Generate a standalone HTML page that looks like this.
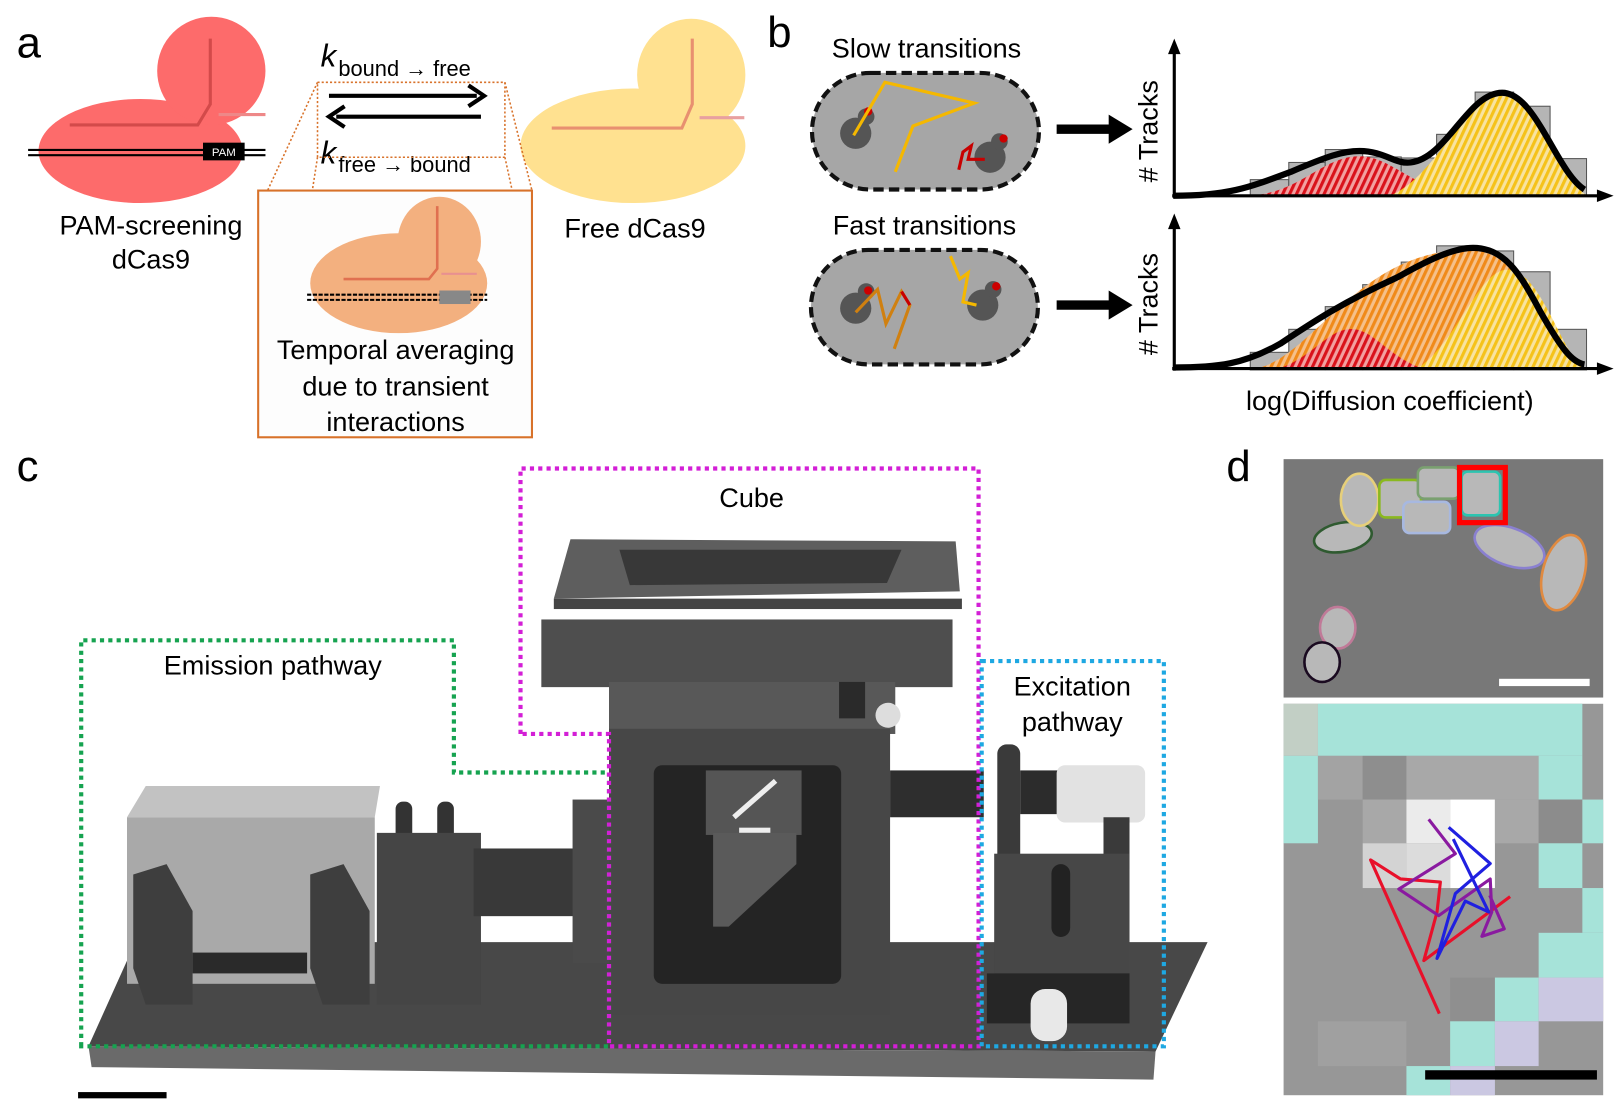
<!DOCTYPE html>
<html><head><meta charset="utf-8"><style>
html,body{margin:0;padding:0;background:#fff;}
svg{display:block;font-family:"Liberation Sans",sans-serif;}
</style></head><body>
<svg width="1624" height="1114" viewBox="0 0 1560 1070" xmlns="http://www.w3.org/2000/svg">
<defs>
<pattern id="hr" width="6" height="6" patternUnits="userSpaceOnUse" patternTransform="rotate(25)"><rect width="6" height="6" fill="#f2a0a0"/><rect width="3" height="6" fill="#d9121b"/></pattern>
<pattern id="hy" width="6" height="6" patternUnits="userSpaceOnUse" patternTransform="rotate(25)"><rect width="6" height="6" fill="#f8e3a0"/><rect width="3" height="6" fill="#f5c21a"/></pattern>
<pattern id="ho" width="6" height="6" patternUnits="userSpaceOnUse" patternTransform="rotate(25)"><rect width="6" height="6" fill="#f5c08a"/><rect width="3" height="6" fill="#f08a1a"/></pattern>
</defs>
<rect width="1560" height="1070" fill="#fff"/>

<!-- Panel a -->
<text x="16" y="55" font-size="42">a</text>
<g fill="#fd6b6b">
<ellipse cx="135" cy="145" rx="98" ry="50"/><ellipse cx="203" cy="68" rx="52" ry="52"/>
</g>
<path d="M202 37 V100 L190 120 H67" stroke="#d34a4a" stroke-width="3" fill="none"/>
<line x1="210" y1="110" x2="255" y2="110" stroke="#e88" stroke-width="3"/>
<line x1="27" y1="144" x2="255" y2="144" stroke="#000" stroke-width="2"/>
<line x1="27" y1="149" x2="255" y2="149" stroke="#000" stroke-width="2"/>
<rect x="195" y="137" width="40" height="17" fill="#000"/>
<text x="215" y="150" font-size="11" fill="#fff" text-anchor="middle">PAM</text>
<text x="145" y="225" font-size="26" text-anchor="middle">PAM-screening</text>
<text x="145" y="258" font-size="26" text-anchor="middle">dCas9</text>

<g fill="#ffe190"><ellipse cx="608" cy="140" rx="108" ry="55"/><ellipse cx="664" cy="72" rx="52" ry="54"/></g>
<path d="M665 37 V100 L655 123 H530" stroke="#e89070" stroke-width="3" fill="none"/>
<line x1="672" y1="113" x2="715" y2="113" stroke="#e8a0a0" stroke-width="3"/>
<text x="610" y="228" font-size="26" text-anchor="middle">Free dCas9</text>

<text x="308" y="64" font-size="30" font-style="italic">k</text>
<text x="325" y="73" font-size="21">bound → free</text>
<text x="308" y="157" font-size="30" font-style="italic">k</text>
<text x="325" y="165" font-size="21">free → bound</text>
<line x1="316" y1="92" x2="458" y2="92" stroke="#000" stroke-width="4"/>
<path d="M450 82 L465 92 L450 102" stroke="#000" stroke-width="4" fill="none"/>
<line x1="323" y1="112" x2="462" y2="112" stroke="#000" stroke-width="4"/>
<path d="M331 102 L316 112 L331 122" stroke="#000" stroke-width="4" fill="none"/>
<g stroke="#d8722a" stroke-width="1.5" stroke-dasharray="2 2" fill="none">
<rect x="305" y="79" width="180" height="72"/>
<line x1="305" y1="79" x2="257" y2="183"/><line x1="485" y1="79" x2="511" y2="183"/>
<line x1="305" y1="151" x2="300" y2="183"/><line x1="485" y1="151" x2="492" y2="183"/>
</g>
<rect x="248" y="183" width="263" height="237" fill="#fdfdfd" stroke="#d8722a" stroke-width="2"/>
<g fill="#f3b07f"><ellipse cx="383" cy="272" rx="85" ry="48"/><ellipse cx="422" cy="232" rx="40" ry="43"/></g>
<path d="M420 198 V258 L412 268 H330" stroke="#e07050" stroke-width="2.5" fill="none"/>
<line x1="424" y1="263" x2="458" y2="263" stroke="#e89090" stroke-width="2"/>
<line x1="295" y1="283" x2="468" y2="283" stroke="#000" stroke-width="2" stroke-dasharray="4 1.5"/>
<line x1="295" y1="288" x2="468" y2="288" stroke="#000" stroke-width="2" stroke-dasharray="4 1.5"/>
<rect x="422" y="279" width="30" height="13" fill="#888"/>
<text x="380" y="345" font-size="26" text-anchor="middle">Temporal averaging</text>
<text x="380" y="380" font-size="26" text-anchor="middle">due to transient</text>
<text x="380" y="414" font-size="26" text-anchor="middle">interactions</text>

<!-- Panel b -->
<text x="737" y="45" font-size="42">b</text>
<text x="890" y="55" font-size="26" text-anchor="middle">Slow transitions</text>
<text x="888" y="225" font-size="26" text-anchor="middle">Fast transitions</text>
<rect x="780" y="70" width="218" height="112" rx="56" fill="#a6a6a6" stroke="#111" stroke-width="4" stroke-dasharray="10 5"/>
<rect x="779" y="240" width="218" height="110" rx="55" fill="#a6a6a6" stroke="#111" stroke-width="4" stroke-dasharray="10 5"/>
<g fill="#555">
<circle cx="822" cy="128" r="15"/><circle cx="832" cy="112" r="8"/>
<circle cx="951" cy="151" r="15"/><circle cx="960" cy="136" r="8"/>
<circle cx="822" cy="296" r="15"/><circle cx="832" cy="280" r="8"/>
<circle cx="944" cy="293" r="15"/><circle cx="954" cy="278" r="8"/>
</g>
<g fill="#cc0000"><circle cx="834" cy="107" r="4"/><circle cx="964" cy="133" r="4"/><circle cx="834" cy="279" r="4"/><circle cx="957" cy="275" r="4"/></g>
<polyline points="820,130 850,79 936,99 877,121 860,165" stroke="#f5b800" stroke-width="3" fill="none"/>
<polyline points="921,163 925,146 933,140 930,153 946,153" stroke="#c80000" stroke-width="3" fill="none"/>
<polyline points="822,300 843,278 851,311 866,280 874,293 859,335" stroke="#d08010" stroke-width="3" fill="none"/>
<polyline points="866,280 874,293" stroke="#c80000" stroke-width="3"/>
<polyline points="913,246 922,268 930,262 925,290 938,293" stroke="#f5b800" stroke-width="3" fill="none"/>

<path d="M1015 124 H1068" stroke="#000" stroke-width="9"/><path d="M1065 110 L1088 124 L1065 138Z"/>
<path d="M1015 293 H1068" stroke="#000" stroke-width="9"/><path d="M1065 279 L1088 293 L1065 307Z"/>

<!-- plot 1 -->
<g fill="#b5b5b5" stroke="#555" stroke-width="1">
<rect x="1201" y="172.5" width="37" height="15.5"/><rect x="1238" y="156" width="35" height="32"/>
<rect x="1273" y="143.6" width="36" height="44.4"/><rect x="1309" y="150.7" width="37" height="37.3"/>
<rect x="1346" y="151.7" width="34" height="36.3"/><rect x="1380" y="129" width="37" height="59"/>
<rect x="1417" y="88.4" width="37" height="99.6"/><rect x="1454" y="102" width="35" height="86"/>
<rect x="1489" y="152.3" width="35" height="35.7"/>
</g>
<path d="M1200 188 C1250 185 1270 150 1306 150 C1340 150 1360 188 1420 188Z" fill="url(#hr)"/>
<path d="M1335 188 C1380 170 1410 89 1443 89 C1480 89 1500 175 1525 188Z" fill="url(#hy)"/>
<path d="M1127 188 C1180 188 1200 180 1240 165 C1275 150 1290 145 1306 145 C1330 145 1340 158 1355 156 C1390 152 1410 89 1443 89 C1475 89 1495 165 1522 182" stroke="#000" stroke-width="6" fill="none"/>
<!-- plot 2 -->
<g fill="#b5b5b5" stroke="#555" stroke-width="1">
<rect x="1201" y="338.4" width="37" height="16.9"/><rect x="1238" y="316.3" width="35" height="39"/>
<rect x="1273" y="294.5" width="36" height="60.8"/><rect x="1309" y="273.4" width="37" height="81.9"/>
<rect x="1346" y="251.7" width="34" height="103.6"/><rect x="1380" y="236.1" width="37" height="119.2"/>
<rect x="1417" y="241" width="37" height="114.3"/><rect x="1454" y="261" width="35" height="94.3"/>
<rect x="1489" y="316.3" width="35" height="39"/>
</g>
<path d="M1200 355 C1260 350 1300 240 1411 240 C1470 240 1500 340 1522 355Z" fill="url(#ho)"/>
<path d="M1225 355 C1260 345 1275 316 1298 316 C1320 316 1335 345 1370 355Z" fill="url(#hr)"/>
<path d="M1360 355 C1400 330 1420 259 1448 259 C1480 259 1500 340 1522 355Z" fill="url(#hy)"/>
<path d="M1127 353 C1170 353 1195 350 1230 330 C1260 310 1290 290 1343 266 C1380 245 1400 238 1415 238 C1445 238 1460 262 1480 300 C1500 335 1510 348 1522 350" stroke="#000" stroke-width="6" fill="none"/>
<g stroke="#000" stroke-width="3">
<line x1="1128" y1="50" x2="1128" y2="190"/><line x1="1126" y1="188" x2="1536" y2="188"/>
<line x1="1128" y1="218" x2="1128" y2="356"/><line x1="1126" y1="354" x2="1536" y2="354"/>
</g>
<path d="M1122 52 L1128 37 L1134 52Z M1534 182 L1550 188 L1534 194Z M1122 220 L1128 205 L1134 220Z M1534 348 L1550 354 L1534 360Z"/>
<text transform="translate(1112,126) rotate(-90)" font-size="26" text-anchor="middle">#  Tracks</text>
<text transform="translate(1112,292) rotate(-90)" font-size="26" text-anchor="middle">#  Tracks</text>
<text x="1335" y="394" font-size="26" text-anchor="middle">log(Diffusion coefficient)</text>

<!-- Panel c -->
<text x="16" y="462" font-size="42">c</text>
<polygon points="130,905 1160,905 1110,1010 85,1005" fill="#484848"/>
<polygon points="85,1005 1110,1010 1108,1037 88,1025" fill="#6a6a6a"/>
<polygon points="122,785 140,755 365,755 360,785" fill="#c2c2c2"/>
<rect x="122" y="785" width="238" height="160" fill="#a9a9a9"/>
<rect x="185" y="915" width="110" height="20" fill="#2a2a2a"/>
<path d="M128 840 L160 830 L185 875 L185 965 L140 965 L128 930Z" fill="#3e3e3e"/>
<path d="M298 840 L330 830 L355 875 L355 965 L310 965 L298 930Z" fill="#3e3e3e"/>
<rect x="380" y="770" width="16" height="40" rx="7" fill="#333"/><rect x="420" y="770" width="16" height="40" rx="7" fill="#333"/>
<rect x="362" y="800" width="100" height="165" fill="#454545"/>
<rect x="455" y="815" width="100" height="65" fill="#393939"/>
<rect x="550" y="768" width="35" height="157" fill="#4a4a4a"/>
<polygon points="548,518 918,520 922,568 532,575" fill="#5e5e5e"/>
<polygon points="595,528 866,528 852,560 605,562" fill="#383838"/>
<rect x="532" y="575" width="392" height="10" fill="#444"/>
<rect x="520" y="595" width="395" height="65" fill="#4e4e4e"/>
<rect x="585" y="655" width="275" height="50" fill="#585858"/>
<rect x="806" y="655" width="25" height="35" fill="#2a2a2a"/>
<circle cx="853" cy="687" r="12" fill="#ddd"/>
<rect x="585" y="700" width="270" height="275" fill="#474747"/>
<rect x="628" y="735" width="180" height="210" rx="8" fill="#242424"/>
<rect x="678" y="740" width="92" height="62" fill="#555"/>
<line x1="705" y1="785" x2="745" y2="750" stroke="#eee" stroke-width="5"/>
<rect x="710" y="795" width="30" height="5" fill="#eee"/>
<polygon points="685,800 765,800 765,830 700,890 685,890" fill="#5a5a5a"/>
<rect x="855" y="740" width="90" height="45" fill="#2e2e2e"/>
<rect x="958" y="715" width="22" height="115" rx="9" fill="#3a3a3a"/>
<rect x="980" y="740" width="40" height="42" fill="#2c2c2c"/>
<rect x="1015" y="735" width="85" height="55" rx="8" fill="#e2e2e2"/>
<rect x="1060" y="785" width="25" height="50" fill="#3a3a3a"/>
<rect x="955" y="820" width="130" height="115" fill="#474747"/>
<rect x="1010" y="830" width="18" height="70" rx="9" fill="#222"/>
<rect x="948" y="935" width="137" height="48" fill="#262626"/>
<rect x="990" y="950" width="35" height="50" rx="14" fill="#e8e8e8"/>

<g fill="none" stroke-width="4" stroke-dasharray="4 4">
<polygon points="78,1005 78,615 436,615 436,742 585,742 585,1005" stroke="#16a350"/>
<polygon points="500,705 500,450 940,450 940,1005 585,1005 585,705" stroke="#d31fd6"/>
<rect x="943" y="635" width="175" height="370" stroke="#1ea8e2"/>
</g>
<text x="262" y="648" font-size="26" text-anchor="middle">Emission pathway</text>
<text x="722" y="487" font-size="26" text-anchor="middle">Cube</text>
<text x="1030" y="668" font-size="26" text-anchor="middle">Excitation</text>
<text x="1030" y="702" font-size="26" text-anchor="middle">pathway</text>
<rect x="75" y="1049" width="85" height="6" fill="#000"/>

<!-- Panel d -->
<text x="1178" y="462" font-size="42">d</text>
<rect x="1233" y="441" width="307" height="229" fill="#787878"/>
<g fill="#b8b8b8" stroke-width="2.5">
<ellipse cx="1290" cy="516" rx="28" ry="14" stroke="#2f5a30" transform="rotate(-10 1290 516)"/>
<ellipse cx="1306" cy="480" rx="18" ry="25" stroke="#e6cf7a"/>
<rect x="1325" y="461" width="40" height="36" rx="6" stroke="#8ab820"/>
<rect x="1362" y="449" width="40" height="30" rx="6" stroke="#7aa070"/>
<rect x="1348" y="482" width="45" height="30" rx="6" stroke="#a7b8e0"/>
<rect x="1404" y="453" width="37" height="42" rx="6" stroke="#2cc4b0"/>
<ellipse cx="1450" cy="525" rx="35" ry="18" stroke="#8a80d0" transform="rotate(20 1450 525)"/>
<ellipse cx="1502" cy="550" rx="20" ry="37" stroke="#e08a40" transform="rotate(15 1502 550)"/>
<ellipse cx="1285" cy="603" rx="17" ry="20" stroke="#c07a98"/>
<ellipse cx="1270" cy="636" rx="17" ry="19" stroke="#1a0a20"/>
</g>
<rect x="1402" y="449" width="44" height="53" fill="none" stroke="#f00" stroke-width="5"/>
<rect x="1440" y="652" width="87" height="7" fill="#fff"/>
<rect x="1233" y="676" width="307" height="376" fill="#979797"/>
<g>
<rect x="1233" y="676" width="33" height="50" fill="#c2cfc5"/>
<rect x="1266" y="676" width="254" height="50" fill="#a6e3d9"/>
<rect x="1233" y="726" width="33" height="84" fill="#a6e3d9"/>
<rect x="1266" y="726" width="43" height="42" fill="#a3a3a3"/>
<rect x="1309" y="726" width="42" height="42" fill="#8e8e8e"/>
<rect x="1351" y="726" width="127" height="42" fill="#a8a8a8"/>
<rect x="1478" y="726" width="42" height="42" fill="#a6e3d9"/>
<rect x="1309" y="768" width="42" height="42" fill="#a8a8a8"/>
<rect x="1351" y="768" width="42" height="42" fill="#ebebeb"/>
<rect x="1393" y="768" width="43" height="85" fill="#ffffff"/>
<rect x="1436" y="768" width="42" height="42" fill="#a8a8a8"/>
<rect x="1478" y="768" width="42" height="42" fill="#8c8c8c"/>
<rect x="1520" y="768" width="20" height="42" fill="#a6e3d9"/>
<rect x="1309" y="810" width="42" height="43" fill="#d3d3d3"/>
<rect x="1351" y="810" width="42" height="43" fill="#dcdcdc"/>
<rect x="1478" y="810" width="42" height="43" fill="#a6e3d9"/>
<rect x="1520" y="853" width="20" height="43" fill="#a6e3d9"/>
<rect x="1478" y="896" width="62" height="43" fill="#a6e3d9"/>
<rect x="1393" y="939" width="43" height="42" fill="#8f8f8f"/>
<rect x="1436" y="939" width="42" height="42" fill="#a6e3d9"/>
<rect x="1478" y="939" width="62" height="42" fill="#cbc8e2"/>
<rect x="1266" y="981" width="85" height="43" fill="#a0a0a0"/>
<rect x="1393" y="981" width="43" height="43" fill="#a6e3d9"/>
<rect x="1436" y="981" width="42" height="43" fill="#cbc8e2"/>
<rect x="1351" y="1024" width="42" height="28" fill="#a6e3d9"/>
<rect x="1393" y="1024" width="43" height="28" fill="#cbc8e2"/>
</g>
<g fill="none" stroke-width="3" stroke-linejoin="round">
<polyline points="1382.6,973.6 1316.6,826 1345.3,844.3 1383.6,847.3 1380.4,876 1367.7,922.7 1450.6,861.2" stroke="#e8102a"/>
<polyline points="1372.4,787 1398,820 1343.7,854 1382,879.5 1431.5,844.3 1433,876 1423.5,899.4 1445,892.2 1431,860" stroke="#8a1aa0"/>
<polyline points="1391.6,794.7 1431.5,829.5 1398,858.3 1380.4,920.6 1407.5,865.5 1430,876 1396,806" stroke="#2020e0"/>
</g>
<rect x="1369" y="1028" width="165" height="9" fill="#000"/>
</svg>
</body></html>
